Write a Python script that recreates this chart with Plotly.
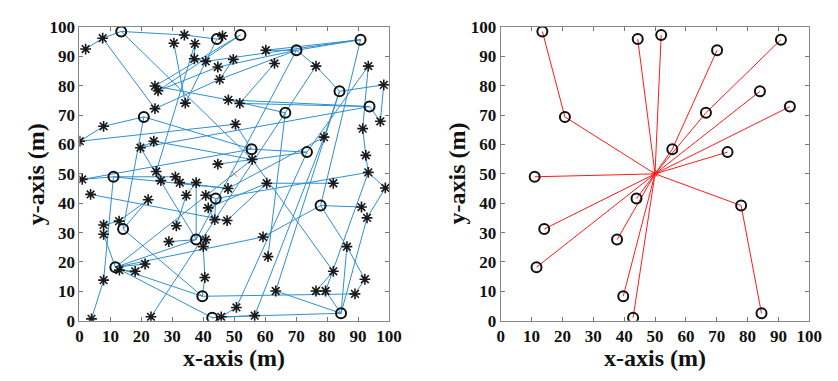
import plotly.graph_objects as go

# ---------------- data ----------------
# cluster heads (circles)
ch_x = [13.5, 44.4, 52.0, 70.1, 90.8, 84.0, 93.7, 66.5, 20.8, 55.6,
        73.5, 11.0, 44.0, 77.9, 14.1, 37.7, 11.6, 39.7, 42.9, 84.5]
ch_y = [98.5, 95.9, 97.3, 92.1, 95.7, 78.1, 72.9, 70.8, 69.4, 58.4,
        57.4, 49.0, 41.6, 39.2, 31.2, 27.6, 18.2, 8.3, 1.0, 2.5]

# normal sensor nodes (asterisks)
nd_x = [2.0, 7.5, 33.9, 30.5, 37.3, 46.2, 37.1, 40.8, 44.7, 49.7,
        24.4, 25.4, 45.3, 48.1, 34.2, 24.4, 7.8, 50.4, 0.1, 24.0,
        19.7, 44.7, 24.8, 31.0, 60.2, 63.0, 76.4, 93.3, 98.3, 51.8,
        97.2, 91.5, 79.0, 92.5, 55.8, 93.3, 0.9, 3.6, 26.3, 32.4,
        37.7, 34.5, 40.8, 48.0, 22.2, 41.6, 43.7, 47.7, 12.8, 7.8,
        7.8, 31.3, 28.9, 40.8, 40.0, 21.2, 18.0, 12.9, 7.8, 40.5,
        3.9, 23.1, 45.8, 50.7, 98.8, 82.0, 60.5, 91.1, 92.9, 59.3,
        86.4, 60.9, 82.0, 92.2, 63.4, 76.4, 79.5, 89.0, 56.6]
nd_y = [92.5, 96.2, 97.3, 94.5, 94.3, 97.0, 89.2, 88.3, 86.4, 89.0,
        79.9, 78.3, 82.2, 75.2, 74.1, 72.2, 66.2, 66.9, 61.1, 61.1,
        58.9, 53.3, 50.8, 49.0, 92.1, 87.6, 86.7, 86.7, 80.3, 74.0,
        67.9, 65.4, 62.5, 56.3, 54.9, 50.5, 48.1, 43.0, 47.7, 47.0,
        47.0, 42.7, 42.7, 45.0, 41.2, 38.4, 34.4, 34.1, 33.9, 32.6,
        29.4, 32.3, 26.9, 27.6, 25.2, 19.3, 16.8, 17.2, 13.8, 14.7,
        0.6, 1.3, 1.3, 4.5, 45.2, 46.8, 46.8, 38.7, 35.0, 28.5,
        25.2, 21.8, 16.8, 14.1, 10.1, 10.1, 10.1, 9.1, 1.7]

sink_x = [50]
sink_y = [50]

# links of the left panel (C = cluster head index, N = node index)
left_links = [
    "N0-N1", "N1-C0", "C0-N2", "N2-C1", "C1-N5", "N1-N15", "C0-N34", "N10-C2",
    "N11-C2", "N3-N14", "N4-N6", "N6-N7", "N7-C4", "N8-C3", "N9-N12", "N8-N11",
    "N10-N13", "N15-N12", "N16-N18", "N16-C8", "N18-N17", "C8-C9", "N19-N20",
    "N20-C15", "N19-N34", "N22-N4", "N22-N38", "N23-N39", "N14-C1",
    "C4-N24", "N24-C3", "C3-C4", "C3-N12", "C4-C13", "N27-C10", "C5-N74",
    "C3-N26", "N26-C5", "C5-N28", "N28-N30", "C5-N32", "N29-C6", "N13-C6",
    "C6-N30", "C6-N20", "N31-N33", "N33-N35", "N35-N64", "C7-N71", "C7-N13",
    "C9-C10", "C10-N21", "N34-N72", "C9-N17", "N32-N43", "N25-N29", "N27-N31",
    "N36-C9", "N37-N47", "N60-N58", "N58-C11", "C11-N43", "N48-N49", "N49-N50",
    "N50-C16", "C14-C17", "C14-C8", "C15-C16", "C15-N40", "C15-C3", "C16-C17",
    "C16-C18", "C16-N55", "C16-N57", "C16-N69", "C16-N34", "C17-N77", "C18-N62",
    "N61-N26", "N55-N56", "N56-N57", "N52-C15", "N51-N41", "N53-N54", "N54-N59",
    "N59-C17", "N45-N46", "N46-C12", "N42-C12", "N40-N41", "N44-C14", "N39-N43",
    "C12-N35", "N47-N66", "N36-C11", "N44-N48", "N23-C11",
    "C13-N67", "C13-N70", "N70-N73", "C13-N69", "N68-C19", "N70-C19", "C19-N74",
    "C19-N62", "N75-N76", "N76-N35", "N72-N75", "N63-C10", "N78-N32", "N65-N66",
    "N66-N45", "N64-N68", "N73-N77", "C19-N76", "N62-N63", "N78-C18",
]

# next hop of each cluster head in the right panel (-1 = sink)
ch_next = [8, -1, -1, 9, 7, -1, -1, -1, -1, -1,
           -1, -1, -1, -1, -1, -1, -1, -1, -1, 13]

ticks = [0, 10, 20, 30, 40, 50, 60, 70, 80, 90, 100]


def pt(name):
    idx = int(name[1:])
    if name[0] == "C":
        return ch_x[idx], ch_y[idx]
    return nd_x[idx], nd_y[idx]


lx, ly = [], []
for link in left_links:
    a, b = link.split("-")
    xa, ya = pt(a)
    xb, yb = pt(b)
    lx += [xa, xb, None]
    ly += [ya, yb, None]

rx, ry = [], []
for i, nxt in enumerate(ch_next):
    if nxt < 0:
        tx, ty = sink_x[0], sink_y[0]
    else:
        tx, ty = ch_x[nxt], ch_y[nxt]
    rx += [ch_x[i], tx, None]
    ry += [ch_y[i], ty, None]

BLUE = "#2f8fcf"
fig = go.Figure()

# ---- left panel ----
fig.add_trace(go.Scatter(x=lx, y=ly, mode="lines", line=dict(color=BLUE, width=1),
                         xaxis="x", yaxis="y", hoverinfo="skip"))
fig.add_trace(go.Scatter(x=nd_x, y=nd_y, mode="markers",
                         marker=dict(symbol="asterisk-open", size=9, color="#1a1a1a",
                                     line=dict(color="#1a1a1a", width=1.6)),
                         xaxis="x", yaxis="y"))
fig.add_trace(go.Scatter(x=ch_x, y=ch_y, mode="markers",
                         marker=dict(symbol="circle-open", size=10, color="#111",
                                     line=dict(color="#111", width=2)),
                         xaxis="x", yaxis="y"))
fig.add_trace(go.Scatter(x=sink_x, y=sink_y, mode="markers",
                         marker=dict(symbol="x-thin-open", size=6, color="#888",
                                     line=dict(color="#888", width=1)),
                         xaxis="x", yaxis="y"))

# ---- right panel ----
fig.add_trace(go.Scatter(x=rx, y=ry, mode="lines", line=dict(color="#ff1a1a", width=1),
                         xaxis="x2", yaxis="y2", hoverinfo="skip"))
fig.add_trace(go.Scatter(x=ch_x, y=ch_y, mode="markers",
                         marker=dict(symbol="circle-open", size=10, color="#111",
                                     line=dict(color="#111", width=2)),
                         xaxis="x2", yaxis="y2"))
fig.add_trace(go.Scatter(x=sink_x, y=sink_y, mode="markers",
                         marker=dict(symbol="asterisk-open", size=6, color="#ff1a1a",
                                     line=dict(color="#ff1a1a", width=1)),
                         xaxis="x2", yaxis="y2"))

W, H = 838, 381
left_dom = [77 / W, 393 / W]
right_dom = [507 / W, 822 / W]
y_dom = [1 - 328 / H, 1 - 19 / H]

tickfont = dict(family="Liberation Serif", size=17, color="#111")
axis_common = dict(range=[0, 100], tickvals=ticks,
                   ticktext=["<b>%d</b>" % t for t in ticks],
                   ticks="inside", ticklen=4, tickwidth=1, tickcolor="#777",
                   showline=True, linecolor="#888", linewidth=1, mirror="ticks",
                   showgrid=False, zeroline=False, tickfont=tickfont)

fig.update_layout(
    width=W, height=H, margin=dict(l=0, r=0, t=0, b=0),
    paper_bgcolor="white", plot_bgcolor="white", showlegend=False,
    font=dict(family="Liberation Serif"),
    xaxis=dict(domain=left_dom, anchor="y", **axis_common),
    yaxis=dict(domain=y_dom, anchor="x", **axis_common),
    xaxis2=dict(domain=right_dom, anchor="y2", **axis_common),
    yaxis2=dict(domain=y_dom, anchor="x2", **axis_common),
)

title_font = dict(family="Liberation Serif", size=24, color="#111")
for xc in [(left_dom[0] + left_dom[1]) / 2, (right_dom[0] + right_dom[1]) / 2]:
    fig.add_annotation(x=xc, y=14 / H, xref="paper", yref="paper", text="<b>x-axis (m)</b>",
                       showarrow=False, font=title_font, xanchor="center", yanchor="middle")
for xc in [32, 462]:
    fig.add_annotation(x=xc / W, y=(y_dom[0] + y_dom[1]) / 2, xref="paper", yref="paper",
                       text="<b>y-axis (m)</b>", textangle=-90, showarrow=False,
                       font=title_font, xanchor="center", yanchor="middle")

fig.write_html("out.html")
